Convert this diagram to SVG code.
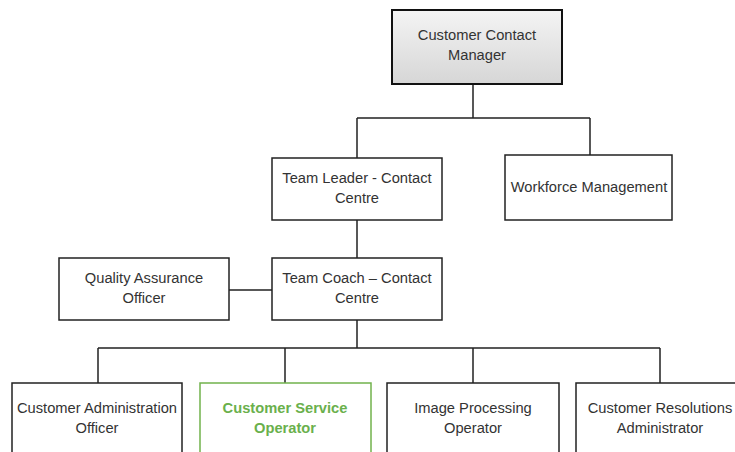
<svg xmlns="http://www.w3.org/2000/svg" width="735" height="452" viewBox="0 0 735 452">
<defs>
<linearGradient id="g" x1="0" y1="0" x2="0" y2="1">
<stop offset="0" stop-color="#f4f4f4"/>
<stop offset="1" stop-color="#d6d6d6"/>
</linearGradient>
</defs>
<style>
rect{fill:#fff;stroke:#222;stroke-width:1.5}
#top rect{fill:url(#g);stroke:#111;stroke-width:2}
#cso rect{stroke:#72b24c}
text{font-family:"Liberation Sans",Arial,sans-serif;font-size:14.7px;fill:#333;text-anchor:middle}
#cso text{fill:#6ab04c;font-weight:bold}
#connectors path{fill:none;stroke:#222;stroke-width:1.5}
</style>
<rect x="0" y="0" width="735" height="452" style="fill:#fff;stroke:none"/>
<g id="connectors">
<path d="M473 84V118M357 118H590M357 118V158M590 118V155"/>
<path d="M357 220V258M229 290H272"/>
<path d="M357 320V348M98 348H660M98 348V383M285 348V383M473 348V383M660 348V383"/>
</g>
<g id="top"><rect x="392" y="10" width="170" height="74"/><text x="477" y="40">Customer Contact</text><text x="477" y="60">Manager</text></g>
<g id="teamleader"><rect x="272" y="158" width="170" height="62"/><text x="357" y="183">Team Leader - Contact</text><text x="357" y="203">Centre</text></g>
<g id="workforce"><rect x="505" y="155" width="167" height="65"/><text x="589" y="192">Workforce Management</text></g>
<g id="teamcoach"><rect x="272" y="258" width="170" height="62"/><text x="357" y="283">Team Coach – Contact</text><text x="357" y="303">Centre</text></g>
<g id="qa"><rect x="59" y="258" width="170" height="62"/><text x="144" y="283">Quality Assurance</text><text x="144" y="303">Officer</text></g>
<g id="cao"><rect x="12" y="383" width="170" height="80"/><text x="97" y="413">Customer Administration</text><text x="97" y="433">Officer</text></g>
<g id="cso"><rect x="200" y="383" width="171" height="80"/><text x="285" y="413">Customer Service</text><text x="285" y="433">Operator</text></g>
<g id="ipo"><rect x="387" y="383" width="172" height="80"/><text x="473" y="413">Image Processing</text><text x="473" y="433">Operator</text></g>
<g id="cra"><rect x="576" y="383" width="170" height="80"/><text x="660" y="413">Customer Resolutions</text><text x="660" y="433">Administrator</text></g>
</svg>
